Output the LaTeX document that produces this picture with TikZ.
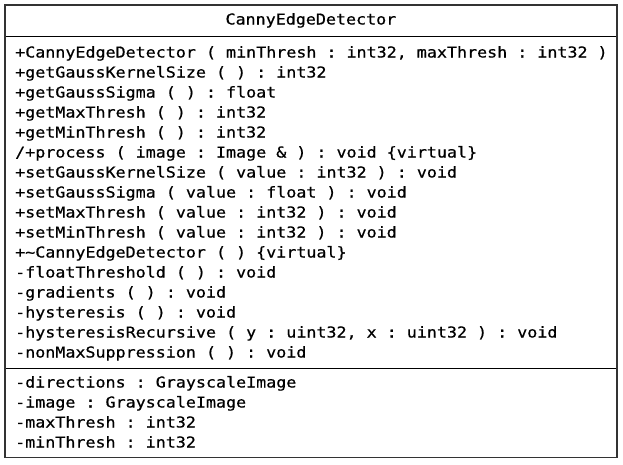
\documentclass[tikz,border=0pt]{standalone}
\usepackage{fontspec}
\setmonofont[FakeStretch=1.112,FakeBold=0.6]{DejaVu Sans Mono}
\begin{document}
\frenchspacing
\begin{tikzpicture}[x=1pt,y=-1pt,
  txt/.style={anchor=base west, inner sep=0pt, font=\fontsize{15}{18}\selectfont\ttfamily},
  border/.style={draw=black!80, line width=1.5pt},
  sep/.style={draw=black, line width=1pt}]
\useasboundingbox (0,0) rectangle (623,464);
\fill[white] (0,0) rectangle (623,464);
\coordinate (tl) at (4.75,5);
\coordinate (br) at (617,457.5);
\coordinate (s1l) at (4.75,36);
\coordinate (s1r) at (617,36);
\coordinate (s2l) at (4.75,368);
\coordinate (s2r) at (617,368);
\draw[sep] (s1l) -- (s1r);
\draw[sep] (s2l) -- (s2r);
\draw[border] (tl) rectangle (br);
\node[txt, anchor=base] (title) at (310.9,24.5) {CannyEdgeDetector};
\node[txt] (m1) at (15,57.5) {+CannyEdgeDetector ( minThresh : int32, maxThresh : int32 )};
\node[txt] (m2) at (15,77.5) {+getGaussKernelSize ( ) : int32};
\node[txt] (m3) at (15,97.5) {+getGaussSigma ( ) : float};
\node[txt] (m4) at (15,117.5) {+getMaxThresh ( ) : int32};
\node[txt] (m5) at (15,137.5) {+getMinThresh ( ) : int32};
\node[txt] (m6) at (15,157.5) {/+process ( image : Image \& ) : void \{virtual\}};
\node[txt] (m7) at (15,177.5) {+setGaussKernelSize ( value : int32 ) : void};
\node[txt] (m8) at (15,197.5) {+setGaussSigma ( value : float ) : void};
\node[txt] (m9) at (15,217.5) {+setMaxThresh ( value : int32 ) : void};
\node[txt] (m10) at (15,237.5) {+setMinThresh ( value : int32 ) : void};
\node[txt] (m11) at (15,257.5) {+\textasciitilde CannyEdgeDetector ( ) \{virtual\}};
\node[txt] (m12) at (15,277.5) {-floatThreshold ( ) : void};
\node[txt] (m13) at (15,297.5) {-gradients ( ) : void};
\node[txt] (m14) at (15,317.5) {-hysteresis ( ) : void};
\node[txt] (m15) at (15,337.5) {-hysteresisRecursive ( y : uint32, x : uint32 ) : void};
\node[txt] (m16) at (15,357.5) {-nonMaxSuppression ( ) : void};
\node[txt] (a1) at (15,387.5) {-directions : GrayscaleImage};
\node[txt] (a2) at (15,407.5) {-image : GrayscaleImage};
\node[txt] (a3) at (15,427.5) {-maxThresh : int32};
\node[txt] (a4) at (15,447.5) {-minThresh : int32};
\end{tikzpicture}
\end{document}
